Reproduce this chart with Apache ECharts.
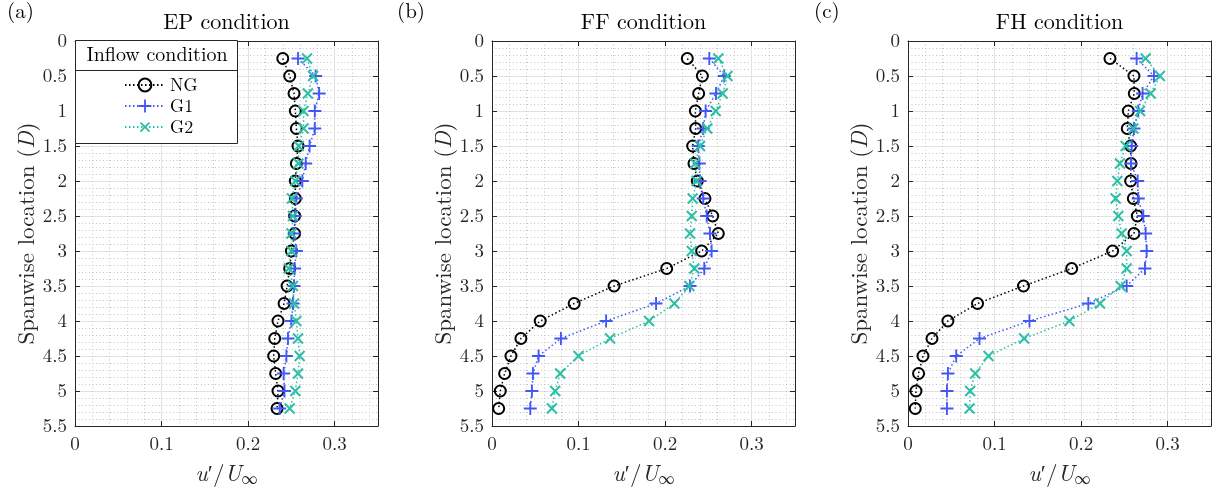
<!DOCTYPE html>
<html>
<head>
<meta charset="utf-8">
<script src="https://cdn.jsdelivr.net/npm/echarts@6/dist/echarts.min.js"></script>
<style>
html,body{margin:0;padding:0;background:#fff;}
#chart{width:1218px;height:492px;}
</style>
</head>
<body>
<div id="chart"></div>
<script>
// ---------- data ----------
const spanwise = [0.25,0.5,0.75,1.0,1.25,1.5,1.75,2.0,2.25,2.5,2.75,3.0,3.25,3.5,3.75,4.0,4.25,4.5,4.75,5.0,5.25];
const seriesNames = ['NG','G1','G2'];
const panelTitles = ['EP condition','FF condition','FH condition'];
const panelLetters = ['(a)','(b)','(c)'];
const xTickValues = [0,0.1,0.2,0.3];
const yTickValues = [0,0.5,1,1.5,2,2.5,3,3.5,4,4.5,5,5.5];

// EP condition
const epNG = [0.240,0.248,0.253,0.2545,0.2557,0.2576,0.2557,0.2545,0.2545,0.2537,0.2537,0.250,0.248,0.245,0.2415,0.2345,0.2307,0.2295,0.2318,0.2345,0.2334];
const epG1 = [0.2576,0.278,0.282,0.277,0.277,0.271,0.2665,0.2626,0.2557,0.2545,0.253,0.2557,0.2537,0.253,0.2518,0.250,0.246,0.2442,0.241,0.242,0.2364];
const epG2 = [0.268,0.275,0.269,0.264,0.264,0.2584,0.258,0.2545,0.2506,0.2518,0.250,0.250,0.247,0.2518,0.253,0.2557,0.2576,0.2595,0.2576,0.2545,0.248];
// FF condition
const ffNG = [0.2256,0.243,0.2387,0.2349,0.2353,0.2318,0.2333,0.2372,0.246,0.2549,0.2614,0.2422,0.2018,0.141,0.0949,0.0557,0.0334,0.0219,0.0146,0.0096,0.0077];
const ffG1 = [0.251,0.2683,0.2587,0.2468,0.244,0.2383,0.2395,0.2403,0.244,0.248,0.2518,0.2537,0.2452,0.2287,0.1895,0.1318,0.0796,0.0538,0.0473,0.0461,0.0442];
const ffG2 = [0.2614,0.272,0.2664,0.2584,0.2487,0.2403,0.2345,0.2364,0.2318,0.2307,0.2287,0.2307,0.2337,0.228,0.2106,0.1814,0.1364,0.0999,0.0788,0.073,0.0692];
// FH condition
const fhNG = [0.2333,0.261,0.2614,0.2545,0.2533,0.2572,0.2576,0.2572,0.2603,0.2649,0.261,0.2364,0.1891,0.1334,0.0803,0.0461,0.0277,0.0173,0.0122,0.0092,0.0084];
const fhG1 = [0.2641,0.2841,0.271,0.266,0.261,0.2584,0.2576,0.2653,0.266,0.2718,0.2745,0.2757,0.2737,0.2526,0.2083,0.1403,0.0826,0.0557,0.0461,0.045,0.045];
const fhG2 = [0.2745,0.291,0.2803,0.268,0.2603,0.2514,0.2449,0.2418,0.2399,0.2429,0.2468,0.2526,0.2526,0.2456,0.2218,0.1864,0.1341,0.093,0.0776,0.0718,0.0711];

const panels = [[epNG,epG1,epG2],[ffNG,ffG1,ffG2],[fhNG,fhG1,fhG2]];

// ---------- style ----------
const FONT = 'Latin Modern Roman';
const AX = '#262626';
const colors = ['#000000','#4257F5','#2DBFA5'];
const gridLefts = [75, 492, 908];
const letterX = [7, 397, 814];
const GW = 303, GT = 41, GH = 387;
const PLUS = 'path://M6,0H8V6H14V8H8V14H6V8H0V6H6Z';

const fmt = v => {
  if (Math.abs(v - 0.35) < 1e-6) return '';
  return String(+v.toFixed(2));
};

const grids = [], xAxes = [], yAxes = [], series = [], graphics = [];
panels.forEach((p, i) => {
  grids.push({left: gridLefts[i], top: GT, width: GW, height: GH, containLabel: false});
  const xi = xAxes.length, yi = yAxes.length;
  // minor x grid (drawn first)
  xAxes.push({
    gridIndex: i, type: 'value', position: 'bottom', min: 0, max: 0.35, interval: 0.02,
    axisLine: {show: false}, axisTick: {show: false}, axisLabel: {show: false},
    splitLine: {show: true, lineStyle: {color: '#c4c4c4', width: 1, type: [1, 2.5]}}
  });
  // main x (bottom)
  xAxes.push({
    gridIndex: i, type: 'value', position: 'bottom', min: 0, max: 0.35, interval: 0.1,
    axisLine: {show: true, onZero: false, lineStyle: {color: AX, width: 1}},
    axisTick: {show: true, inside: true, length: 5, lineStyle: {color: AX}},
    axisLabel: {show: true, formatter: fmt, fontFamily: FONT, fontSize: 19, color: AX, margin: 9, showMaxLabel: false},
    splitLine: {show: true, lineStyle: {color: '#e2e2e2', width: 1}},
    name: '{i|u}{n|′/}{i|U}{s|∞}', nameLocation: 'middle', nameGap: 35,
    nameTextStyle: {rich: {
      i: {fontFamily: FONT, fontStyle: 'italic', fontSize: 23, color: AX},
      n: {fontFamily: FONT, fontSize: 23, color: AX},
      s: {fontFamily: FONT, fontSize: 16, color: AX, padding: [10,0,0,0]}
    }}
  });
  // top x
  xAxes.push({
    gridIndex: i, type: 'value', position: 'top', min: 0, max: 0.35, interval: 0.1,
    axisLine: {show: true, onZero: false, lineStyle: {color: AX, width: 1}},
    axisTick: {show: true, inside: true, length: 5, lineStyle: {color: AX}},
    axisLabel: {show: false}, splitLine: {show: false}
  });
  // minor y grid
  yAxes.push({
    gridIndex: i, type: 'value', position: 'left', inverse: true, min: 0, max: 5.5, interval: 0.1,
    axisLine: {show: false}, axisTick: {show: false}, axisLabel: {show: false},
    splitLine: {show: true, lineStyle: {color: '#c4c4c4', width: 1, type: [1, 2.5]}}
  });
  // main y (left)
  yAxes.push({
    gridIndex: i, type: 'value', position: 'left', inverse: true, min: 0, max: 5.5, interval: 0.5,
    axisLine: {show: true, onZero: false, lineStyle: {color: AX, width: 1}},
    axisTick: {show: true, inside: true, length: 5, lineStyle: {color: AX}},
    axisLabel: {show: true, fontFamily: FONT, fontSize: 19, color: AX, margin: 8},
    splitLine: {show: true, lineStyle: {color: '#e2e2e2', width: 1}},
    name: '{n|Spanwise location (}{i|D}{n|)}', nameLocation: 'middle', nameGap: 33, nameRotate: 90,
    nameTextStyle: {rich: {
      i: {fontFamily: FONT, fontStyle: 'italic', fontSize: 23, color: AX},
      n: {fontFamily: FONT, fontSize: 23, color: AX}
    }}
  });
  // right y
  yAxes.push({
    gridIndex: i, type: 'value', position: 'right', inverse: true, min: 0, max: 5.5, interval: 0.5,
    axisLine: {show: true, onZero: false, lineStyle: {color: AX, width: 1}},
    axisTick: {show: true, inside: true, length: 5, lineStyle: {color: AX}},
    axisLabel: {show: false}, splitLine: {show: false}
  });

  p.forEach((vals, k) => {
    const s = {
      name: seriesNames[k], type: 'line', xAxisIndex: xi + 1, yAxisIndex: yi + 1,
      data: spanwise.map((y, j) => [vals[j], y]),
      showSymbol: true, showAllSymbol: true, animation: false, z: 3 + k,
      lineStyle: {color: colors[k], width: 1.5, type: [1.5, 2.5]},
      emphasis: {disabled: true}
    };
    if (k === 0) {
      s.symbol = 'circle'; s.symbolSize = 11;
      s.itemStyle = {color: 'rgba(0,0,0,0)', borderColor: colors[k], borderWidth: 2};
    } else if (k === 1) {
      s.symbol = PLUS; s.symbolSize = 13;
      s.itemStyle = {color: colors[k], borderWidth: 0};
    } else {
      s.symbol = PLUS; s.symbolSize = 14; s.symbolRotate = 45;
      s.itemStyle = {color: colors[k], borderWidth: 0};
    }
    series.push(s);
  });

  const cx = gridLefts[i] + GW / 2;
  graphics.push({type: 'text', x: cx, y: 22, z: 5,
    style: {text: panelTitles[i], font: '22px "' + FONT + '"', fill: '#000', textAlign: 'center', textVerticalAlign: 'middle'}});
  graphics.push({type: 'text', x: letterX[i], y: 12, z: 5,
    style: {text: panelLetters[i], font: '21px "' + FONT + '"', fill: '#000', textAlign: 'left', textVerticalAlign: 'middle'}});
});

// legend box
graphics.push({type: 'rect', z: 20, shape: {x: 75.5, y: 40.5, width: 162, height: 103},
  style: {fill: '#fff', stroke: AX, lineWidth: 1}});
graphics.push({type: 'line', z: 21, shape: {x1: 75.5, y1: 70.5, x2: 237.5, y2: 70.5},
  style: {stroke: AX, lineWidth: 1}});
graphics.push({type: 'text', z: 21, x: 157, y: 55,
  style: {text: 'Inflow condition', font: '20px "' + FONT + '"', fill: '#000', textAlign: 'center', textVerticalAlign: 'middle'}});

const option = {
  animation: false,
  backgroundColor: '#fff',
  grid: grids, xAxis: xAxes, yAxis: yAxes, series: series,
  graphic: graphics,
  legend: {
    data: seriesNames, orient: 'vertical', left: 124, top: 76, z: 30,
    padding: 0, itemWidth: 40, itemHeight: 16, itemGap: 3,
    selectedMode: false,
    textStyle: {fontFamily: FONT, fontSize: 18, color: '#000'}
  }
};

const chart = echarts.init(document.getElementById('chart'), null, {renderer: 'canvas'});
chart.setOption(option);
</script>
</body>
</html>
